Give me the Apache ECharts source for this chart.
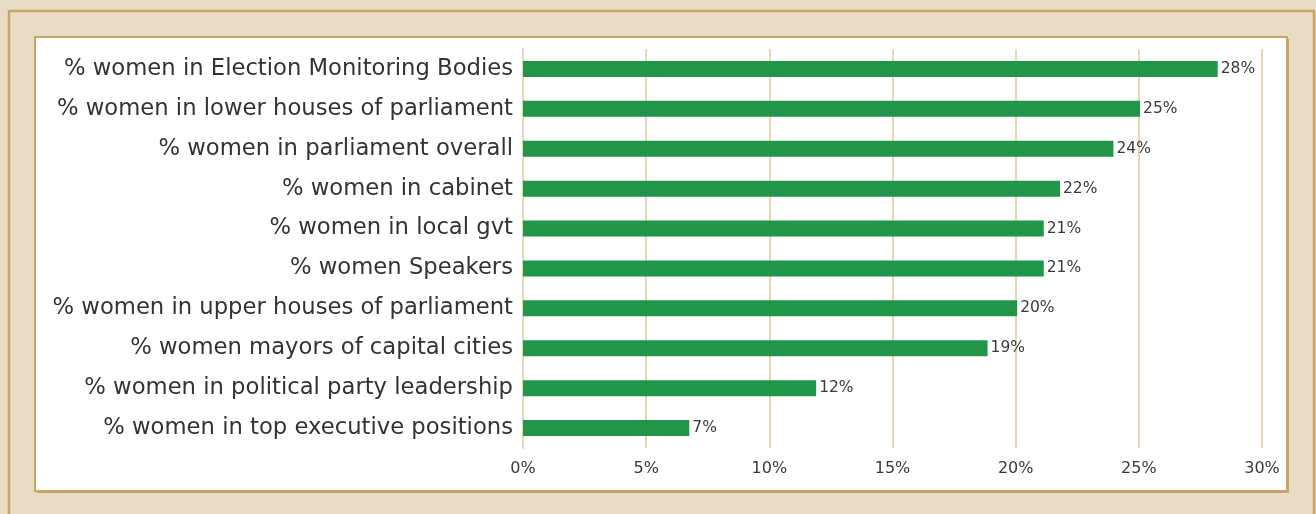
<!DOCTYPE html>
<html>
<head>
<meta charset="utf-8">
<script src="https://cdn.jsdelivr.net/npm/echarts@6/dist/echarts.min.js"></script>
<style>
html,body{margin:0;padding:0;background:#e8dcc4;overflow:hidden;}
#c{width:1316px;height:514px;}
</style>
</head>
<body>
<div id="c"></div>
<script>
const categories = [
  "% women in Election Monitoring Bodies",
  "% women in lower houses of parliament",
  "% women in parliament overall",
  "% women in cabinet",
  "% women in local gvt",
  "% women Speakers",
  "% women in upper houses of parliament",
  "% women mayors of capital cities",
  "% women in political party leadership",
  "% women in top executive positions"
];
const values = [28.2, 25.05, 23.97, 21.8, 21.14, 21.14, 20.06, 18.86, 11.9, 6.75];
const valueLabels = ["28%", "25%", "24%", "22%", "21%", "21%", "20%", "19%", "12%", "7%"];

const FONT = "DejaVu Sans";
const chart = echarts.init(document.getElementById('c'), null, {renderer: 'canvas'});
chart.setOption({
  backgroundColor: '#e8dcc4',
  animation: false,
  graphic: [
    {type: 'rect', shape: {x: 9, y: 11, width: 1305, height: 520}, style: {fill: '#e8dcc4', stroke: '#c6a463', lineWidth: 2.5}, z: -10},
    {type: 'rect', shape: {x: 37, y: 39, width: 1252, height: 454}, style: {fill: '#c6a463'}, z: -9},
    {type: 'rect', shape: {x: 35, y: 37, width: 1252, height: 454}, style: {fill: '#ffffff', stroke: '#c6a463', lineWidth: 2}, z: -8}
  ],
  grid: {left: 523, right: 54, top: 49, bottom: 66, containLabel: false},
  xAxis: {
    type: 'value', min: 0, max: 30, interval: 5,
    axisLine: {show: false}, axisTick: {show: false},
    splitLine: {show: true, lineStyle: {color: '#e6d6b6', width: 2}},
    axisLabel: {formatter: '{value}%', color: '#3a3a3a', fontFamily: FONT, fontSize: 16, margin: 13}
  },
  yAxis: {
    type: 'category', data: categories, inverse: true,
    axisLine: {show: true, lineStyle: {color: '#e6d6b6', width: 2}},
    axisTick: {show: false},
    axisLabel: {color: '#333333', fontFamily: FONT, fontSize: 22.7, margin: 10}
  },
  series: [{
    type: 'bar', data: values, barWidth: 16,
    itemStyle: {color: '#219648'},
    label: {show: true, position: 'right', distance: 3, color: '#3a3a3a', fontFamily: FONT, fontSize: 15.5,
      formatter: p => valueLabels[p.dataIndex]}
  }]
});
</script>
</body>
</html>
